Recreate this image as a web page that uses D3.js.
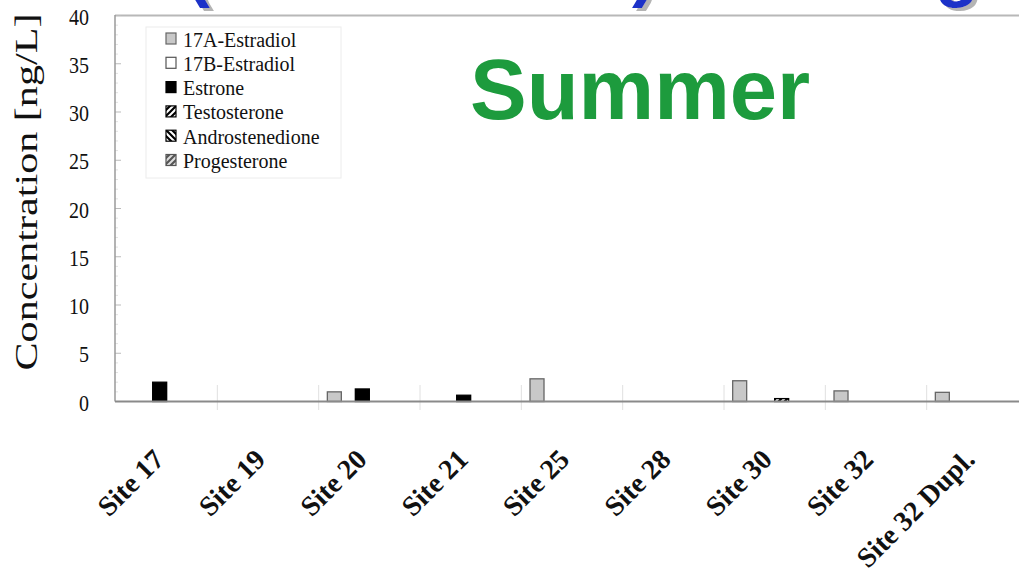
<!DOCTYPE html>
<html>
<head>
<meta charset="utf-8">
<script src="https://cdn.jsdelivr.net/npm/d3@7"></script>
<style>
  html, body { margin: 0; padding: 0; background: #fff; }
  svg { display: block; }
</style>
</head>
<body>
<script>
// sites along the x axis
const sites = ["Site 17", "Site 19", "Site 20", "Site 21", "Site 25",
  "Site 28", "Site 30", "Site 32", "Site 32 Dupl."];
const compounds = ["17A-Estradiol", "17B-Estradiol", "Estrone",
  "Testosterone", "Androstenedione", "Progesterone"];

// concentrations in ng/L, one value per site
const estradiol17A = [0, 0, 1.0, 0, 2.35, 0, 2.15, 1.1, 0.95];
const estradiol17B = [0, 0, 0, 0, 0, 0, 0, 0, 0];
const estrone = [2.0, 0, 1.3, 0.65, 0, 0, 0, 0, 0];
const testosterone = [0, 0, 0, 0, 0, 0, 0.3, 0, 0];
const androstenedione = [0, 0, 0, 0, 0, 0, 0, 0, 0];
const progesterone = [0, 0, 0, 0, 0, 0, 0, 0, 0];
const yTicks = [0, 5, 10, 15, 20, 25, 30, 35, 40];

const series = [estradiol17A, estradiol17B, estrone, testosterone, androstenedione, progesterone];

var width = 1019, height = 576;

var svg = d3.select("body").append("svg")
  .attr("width", width)
  .attr("height", height);

// hatch patterns + shadow for the slide title
var defs = svg.append("defs");
function hatch(id, bg, fg, dir) {
  var p = defs.append("pattern")
    .attr("id", id)
    .attr("patternUnits", "userSpaceOnUse")
    .attr("width", 6).attr("height", 6);
  p.append("rect").attr("width", 6).attr("height", 6).attr("fill", bg);
  p.append("path")
    .attr("d", dir > 0 ? "M-1,7 L7,-1 M-1,1 L1,-1 M5,7 L7,5" : "M-1,-1 L7,7 M-1,5 L1,7 M5,-1 L7,1")
    .attr("stroke", fg).attr("stroke-width", 2.2);
}
hatch("pTest", "#fff", "#000", 1);
hatch("pAndro", "#fff", "#000", -1);
hatch("pProg", "#ddd", "#555", 1);

defs.append("filter").attr("id", "shadow")
  .attr("x", "-20%").attr("y", "-20%").attr("width", "150%").attr("height", "150%")
  .append("feDropShadow")
  .attr("dx", 4).attr("dy", 3).attr("stdDeviation", 0)
  .attr("flood-color", "#b4b4b4").attr("flood-opacity", 1);

const fills = ["#c8c8c8", "#ffffff", "#000000", "url(#pTest)", "url(#pAndro)", "url(#pProg)"];
const strokes = ["#666", "#555", "#000", "#000", "#000", "#555"];

// cut off blue slide title at the very top
var titleBits = [["(", 186], [")", 632], ["g", 935]];
svg.append("g").selectAll("text")
  .data(titleBits)
  .enter().append("text")
  .attr("x", function (d) { return d[1]; }).attr("y", -7)
  .attr("font-family", "Liberation Sans, Arial, sans-serif")
  .attr("font-weight", "bold").attr("font-size", 72)
  .attr("fill", "#1f31c8")
  .attr("filter", "url(#shadow)")
  .text(function (d) { return d[0]; });

var x0 = d3.scaleBand().domain(sites).range([116, 1028]);
var x1 = d3.scaleBand().domain(compounds).range([0, x0.bandwidth()]).paddingOuter(0.62);
var y = d3.scaleLinear().domain([0, 40]).range([401.5, 15.5]);

var serif = "Liberation Serif, Times New Roman, serif";

// frame
svg.append("line").attr("x1", 115).attr("x2", width).attr("y1", 15.5).attr("y2", 15.5)
  .attr("stroke", "#b8b8b8").attr("stroke-width", 2);

// minor and major y ticks
svg.append("g").selectAll("line")
  .data(d3.range(0, 41))
  .enter().append("line")
  .attr("x1", 115).attr("x2", function (d) { return d % 5 === 0 ? 121 : 118; })
  .attr("y1", function (d) { return y(d); }).attr("y2", function (d) { return y(d); })
  .attr("stroke", function (d) { return d % 5 === 0 ? "#bbb" : "#e2e2e2"; });

// category separators
svg.append("g").selectAll("line")
  .data(sites.slice(1))
  .enter().append("line")
  .attr("x1", function (d) { return x0(d); }).attr("x2", function (d) { return x0(d); })
  .attr("y1", 385).attr("y2", 410)
  .attr("stroke", "#e0e0e0");

// bars
var groups = svg.append("g").selectAll("g")
  .data(sites)
  .enter().append("g")
  .attr("transform", function (d) { return "translate(" + x0(d) + ",0)"; });

groups.selectAll("rect")
  .data(function (d, i) {
    return compounds.map(function (c, j) { return { c: c, j: j, v: series[j][i] }; })
      .filter(function (e) { return e.v > 0; });
  })
  .enter().append("rect")
  .attr("x", function (d) { return x1(d.c); })
  .attr("width", x1.bandwidth())
  .attr("y", function (d) { return y(d.v); })
  .attr("height", function (d) { return y(0) - y(d.v); })
  .attr("fill", function (d) { return fills[d.j]; })
  .attr("stroke", function (d) { return strokes[d.j]; })
  .attr("stroke-width", 1.3);

// axis lines
svg.append("line").attr("x1", 115).attr("x2", 115).attr("y1", 15).attr("y2", y(0))
  .attr("stroke", "#9a9a9a").attr("stroke-width", 1.5);
svg.append("line").attr("x1", 115).attr("x2", width).attr("y1", y(0)).attr("y2", y(0))
  .attr("stroke", "#8a8a8a").attr("stroke-width", 1.8);

// y tick labels
svg.append("g").selectAll("text")
  .data(yTicks)
  .enter().append("text")
  .attr("transform", function (d) { return "translate(89," + (y(d) + 9) + ") scale(1,1.2)"; })
  .attr("text-anchor", "end")
  .attr("font-family", serif).attr("font-size", 20)
  .attr("fill", "#111")
  .text(function (d) { return d; });

// y title
svg.append("text")
  .attr("transform", "translate(37,192) rotate(-90)")
  .attr("text-anchor", "middle")
  .attr("font-family", serif).attr("font-size", 31)
  .attr("textLength", 357).attr("lengthAdjust", "spacingAndGlyphs")
  .attr("fill", "#111")
  .text("Concentration [ng/L]");

// x labels
svg.append("g").selectAll("text")
  .data(sites)
  .enter().append("text")
  .attr("transform", function (d) {
    return "translate(" + (x0(d) + x0.bandwidth() / 2 - 1) + ",461) rotate(-45)";
  })
  .attr("text-anchor", "end")
  .attr("font-family", serif).attr("font-weight", "bold").attr("font-size", 28)
  .attr("fill", "#111")
  .text(function (d) { return d; });

// legend
var legend = svg.append("g");
legend.append("rect").attr("x", 146).attr("y", 27).attr("width", 195).attr("height", 151)
  .attr("fill", "#fff").attr("stroke", "#ececec");
var items = legend.selectAll("g.item")
  .data(compounds)
  .enter().append("g").attr("class", "item");
items.append("rect")
  .attr("x", 166).attr("width", 10)
  .attr("y", function (d, i) { return 33 + i * 24.3; }).attr("height", 11)
  .attr("fill", function (d, i) { return fills[i]; })
  .attr("stroke", function (d, i) { return strokes[i]; })
  .attr("stroke-width", 1.2);
items.append("text")
  .attr("transform", function (d, i) { return "translate(183," + (46.5 + i * 24.3) + ") scale(1,1.08)"; })
  .attr("font-family", serif).attr("font-size", 20)
  .attr("fill", "#111")
  .text(function (d) { return d; });

// season label
svg.append("text")
  .attr("x", 470).attr("y", 119)
  .attr("font-family", "Liberation Sans, Arial, sans-serif")
  .attr("font-weight", "bold").attr("font-size", 85)
  .attr("fill", "#1d9b3d")
  .text("Summer");
</script>
</body>
</html>
